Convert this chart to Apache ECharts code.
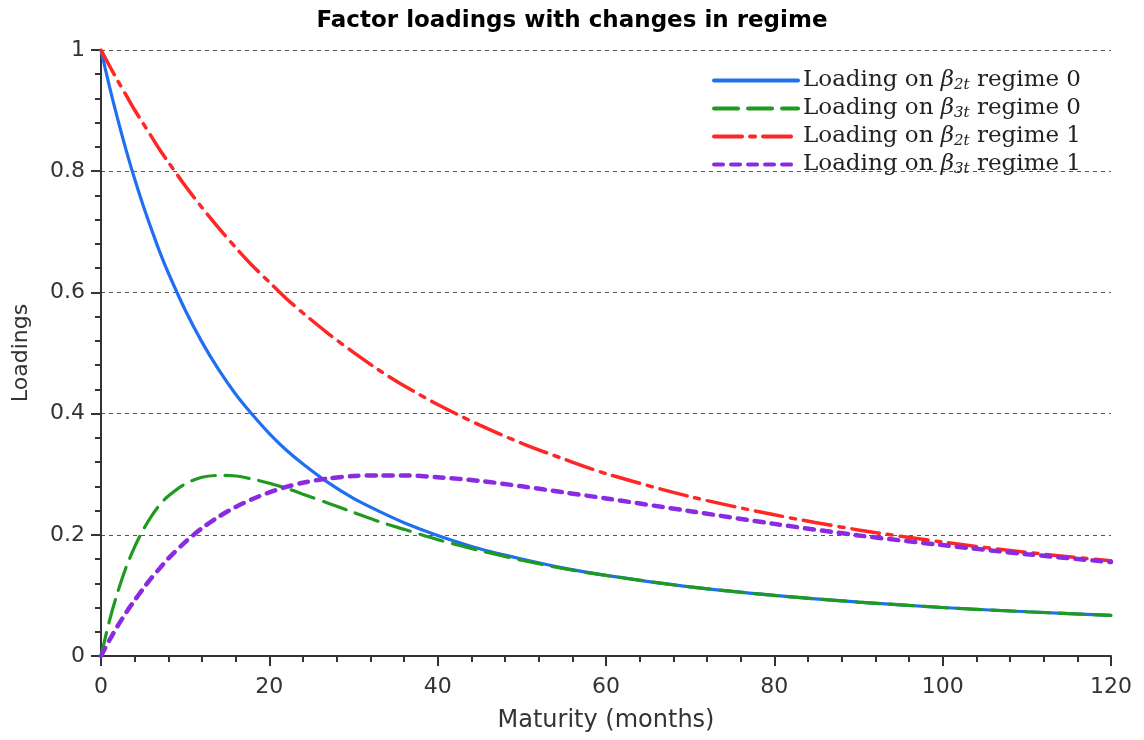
<!DOCTYPE html>
<html>
<head>
    <meta charset="utf-8">
    <title>Factor loadings</title>
    <script src="https://cdn.jsdelivr.net/npm/echarts@6/dist/echarts.min.js"></script>
</head>
<body style="margin:0">
    <div id="chart" style="width: 1144px;height:740px;"></div>
    <script type="text/javascript">
        // maturities (months) and loadings
        var maturity = [0, 1, 2, 3, 4, 5, 6, 7, 8, 10, 12, 14, 16, 18, 20, 22, 24, 27, 30, 33, 36, 40, 45, 50, 55, 60, 70, 80, 90, 100, 110, 120];
        var slope0 = [1, 0.940, 0.885, 0.834, 0.787, 0.744, 0.704, 0.666, 0.632, 0.571, 0.518, 0.472, 0.432, 0.398, 0.367, 0.340, 0.317, 0.286, 0.260, 0.239, 0.220, 0.199, 0.177, 0.160, 0.145, 0.133, 0.114, 0.100, 0.089, 0.080, 0.073, 0.067];
        var curv0 = [0, 0.058, 0.106, 0.147, 0.180, 0.208, 0.231, 0.250, 0.264, 0.284, 0.295, 0.298, 0.297, 0.292, 0.285, 0.277, 0.267, 0.252, 0.237, 0.222, 0.209, 0.192, 0.174, 0.158, 0.144, 0.133, 0.114, 0.100, 0.089, 0.080, 0.073, 0.067];
        var slope1 = [1, 0.974, 0.949, 0.925, 0.901, 0.879, 0.857, 0.835, 0.815, 0.776, 0.740, 0.706, 0.674, 0.644, 0.617, 0.590, 0.566, 0.532, 0.501, 0.472, 0.446, 0.415, 0.381, 0.351, 0.325, 0.301, 0.263, 0.233, 0.208, 0.188, 0.171, 0.157];
        var curv1 = [0, 0.026, 0.050, 0.072, 0.092, 0.111, 0.129, 0.145, 0.161, 0.188, 0.211, 0.230, 0.246, 0.259, 0.270, 0.279, 0.286, 0.293, 0.297, 0.298, 0.298, 0.295, 0.289, 0.280, 0.270, 0.260, 0.239, 0.218, 0.199, 0.183, 0.168, 0.155];

        var names = ['s0', 'c0', 's1', 'c1'];
        var labels = {
            s0: 'Loading on {b|β}{sub|2t} regime 0',
            c0: 'Loading on {b|β}{sub|3t} regime 0',
            s1: 'Loading on {b|β}{sub|2t} regime 1',
            c1: 'Loading on {b|β}{sub|3t} regime 1'
        };

        function pairs(ys) {
            return maturity.map(function (m, i) { return [m, ys[i]]; });
        }

        var myChart = echarts.init(document.getElementById('chart'));
        var axisCol = '#333';
        var sans = 'DejaVu Sans';
        var serif = 'DejaVu Serif';
        var option = {
            animation: false,
            backgroundColor: '#fff',
            title: {
                text: 'Factor loadings with changes in regime',
                left: 'center',
                top: 5,
                textStyle: {fontFamily: sans, fontSize: 23, fontWeight: 'bold', color: '#000'}
            },
            legend: {
                data: names,
                orient: 'vertical',
                right: 58,
                top: 64,
                itemWidth: 84,
                itemHeight: 14,
                itemGap: 4,
                itemStyle: {opacity: 0},
                lineStyle: {width: 4, cap: 'round'},
                formatter: function (n) { return labels[n]; },
                textStyle: {
                    fontFamily: serif,
                    fontSize: 23,
                    color: '#222',
                    rich: {
                        b: {fontFamily: serif, fontStyle: 'italic', fontSize: 23, color: '#222'},
                        sub: {fontFamily: serif, fontStyle: 'italic', fontSize: 15, color: '#222', padding: [10, 0, 0, 0]}
                    }
                }
            },
            grid: {left: 101, right: 33, top: 50, bottom: 84, outerBoundsMode: 'none'},
            xAxis: {
                type: 'value',
                min: 0, max: 120, interval: 20,
                name: 'Maturity (months)',
                nameLocation: 'middle',
                nameGap: 53,
                nameTextStyle: {fontFamily: sans, fontSize: 24, color: axisCol},
                axisLine: {lineStyle: {color: axisCol, width: 2}},
                axisTick: {length: 10, lineStyle: {color: axisCol, width: 2}},
                minorTick: {show: true, splitNumber: 5, length: 6, lineStyle: {color: axisCol, width: 2}},
                axisLabel: {fontFamily: sans, fontSize: 22, color: axisCol, margin: 20},
                splitLine: {show: false}
            },
            yAxis: {
                type: 'value',
                min: 0, max: 1, interval: 0.2,
                name: 'Loadings',
                nameLocation: 'middle',
                nameGap: 69,
                nameTextStyle: {fontFamily: sans, fontSize: 22, color: axisCol},
                axisLine: {show: true, lineStyle: {color: axisCol, width: 2}},
                axisTick: {show: true, length: 10, lineStyle: {color: axisCol, width: 2}},
                minorTick: {show: true, splitNumber: 5, length: 6, lineStyle: {color: axisCol, width: 2}},
                axisLabel: {fontFamily: sans, fontSize: 22, color: axisCol, margin: 16},
                splitLine: {show: true, lineStyle: {color: '#555', width: 1, type: [4, 4]}}
            },
            series: [
                {
                    name: 's0', type: 'line', data: pairs(slope0), smooth: 0.3, symbol: 'none', z: 3,
                    color: '#1f6ff0',
                    lineStyle: {color: '#1f6ff0', width: 3.2}
                },
                {
                    name: 'c0', type: 'line', data: pairs(curv0), smooth: 0.3, symbol: 'none', z: 4,
                    color: '#1e9a1e',
                    lineStyle: {color: '#1e9a1e', width: 3.2, type: [24, 10], cap: 'round'}
                },
                {
                    name: 's1', type: 'line', data: pairs(slope1), smooth: 0.3, symbol: 'none', z: 3,
                    color: '#ff2626',
                    lineStyle: {color: '#ff2626', width: 3.5, type: [28, 8, 5, 8], cap: 'round'}
                },
                {
                    name: 'c1', type: 'line', data: pairs(curv1), smooth: 0.3, symbol: 'none', z: 4,
                    color: '#8a2be2',
                    lineStyle: {color: '#8a2be2', width: 4.5, type: [9, 8], cap: 'round'}
                }
            ]
        };
        myChart.setOption(option);
    </script>
</body>
</html>
